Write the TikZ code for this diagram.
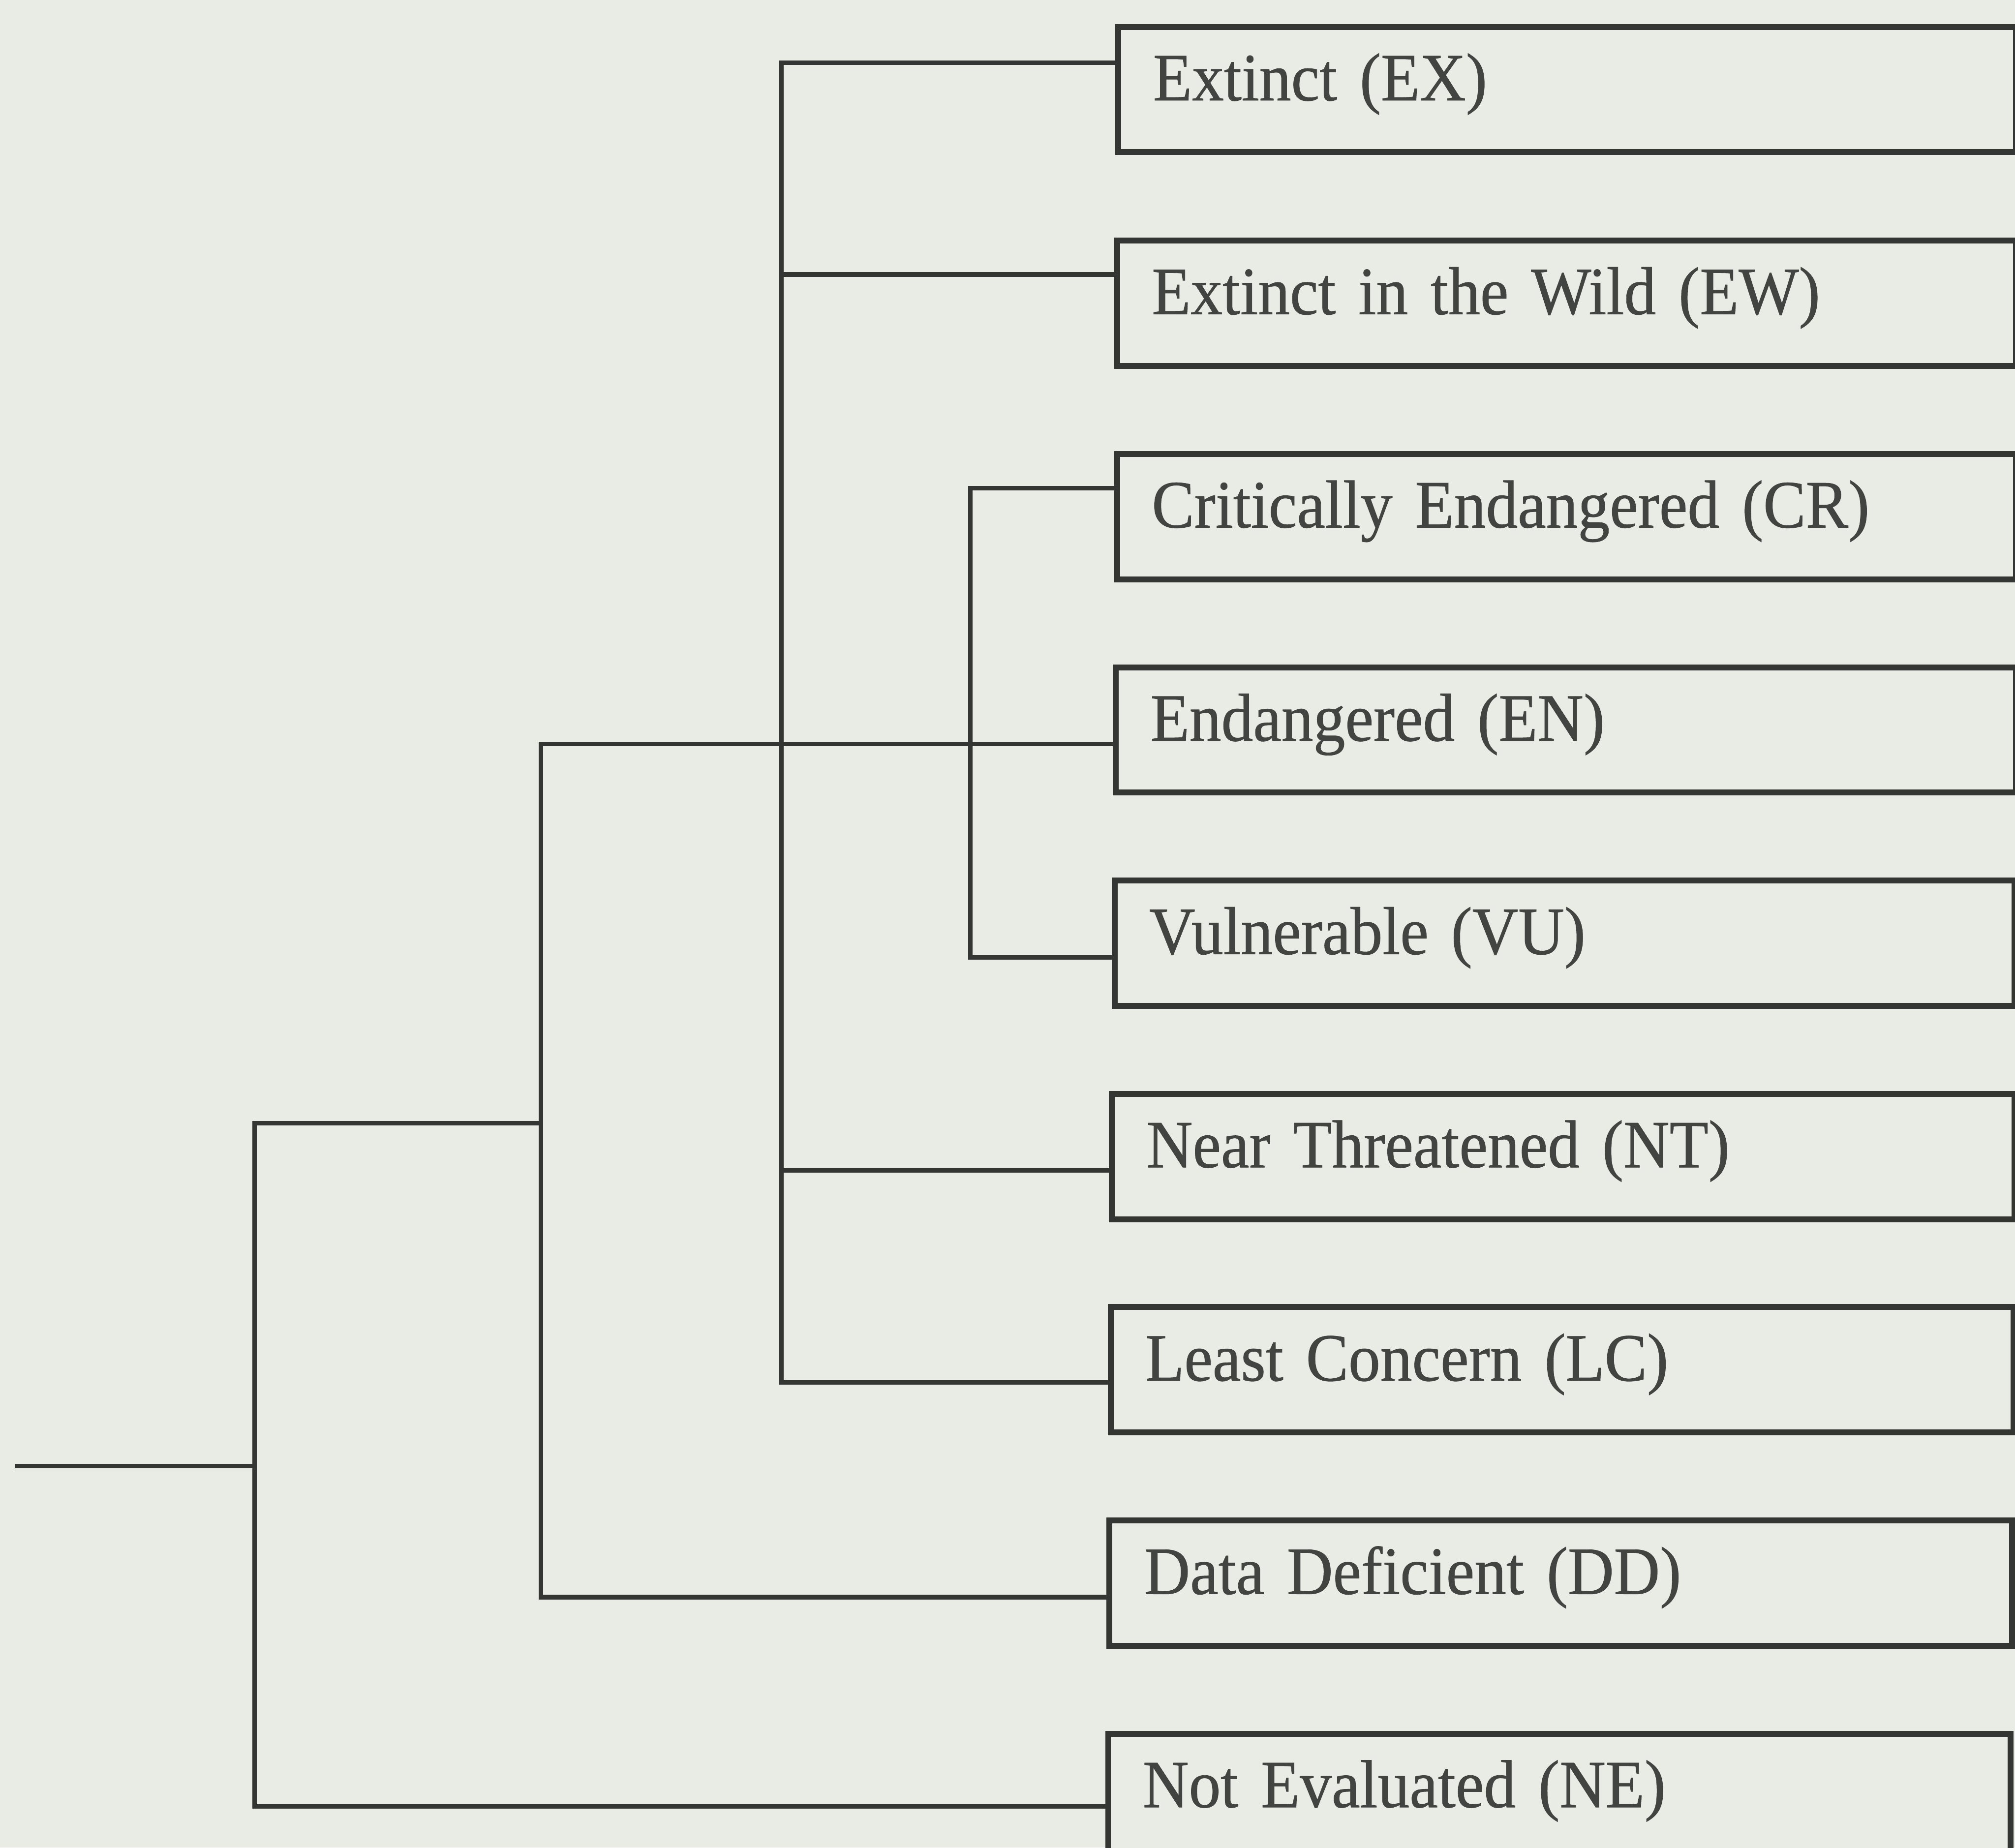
\documentclass[tikz,border=0pt]{standalone}
\usepackage{fontspec}
\setmainfont{Liberation Serif}[FakeStretch=0.94, FakeBold=0.6, WordSpace=0.9]
\usetikzlibrary{calc}
\definecolor{bgcol}{RGB}{232,236,229}
\definecolor{linecol}{RGB}{52,54,52}
\definecolor{textcol}{RGB}{66,68,66}
\tikzset{
  catbox/.style={draw=linecol, line width=1.3pt, fill=bgcol, anchor=north west,
    inner xsep=0.27cm, inner ysep=0pt, minimum height=0.975cm,
    text width=#1, align=left, text height=0.68em, text depth=0.2em,
    text=textcol, font=\fontsize{15pt}{18pt}\selectfont},
  branch/.style={draw=linecol, line width=1.0pt}
}
\begin{document}
\begin{tikzpicture}[x=0.01cm, y=-0.01cm]
\fill[bgcol] (0,0) rectangle (1568,1438);
\useasboundingbox (0,0) rectangle (1568,1438);

% category boxes
\node[catbox=6.44cm] (EX) at (868,18.6) {Extinct (EX)};
\node[catbox=6.45cm] (EW) at (867,185) {Extinct in the Wild (EW)};
\node[catbox=6.45cm] (CR) at (867,351) {Critically Endangered (CR)};
\node[catbox=6.46cm] (EN) at (866,517) {Endangered (EN)};
\node[catbox=6.46cm] (VU) at (865,683) {Vulnerable (VU)};
\node[catbox=6.48cm] (NT) at (863,849) {Near Threatened (NT)};
\node[catbox=6.48cm] (LC) at (862,1015) {Least Concern (LC)};
\node[catbox=6.48cm] (DD) at (861,1181) {Data Deficient (DD)};
\node[catbox=6.48cm] (NE) at (860,1347) {Not Evaluated (NE)};

% connection points on the box edges
\coordinate (EXin) at ($(EX.north west)+(0,30.2)$);
\coordinate (EWin) at ($(EW.north west)+(0,28.6)$);
\coordinate (CRin) at ($(CR.north west)+(0,29)$);
\coordinate (ENin) at ($(EN.north west)+(0,62)$);
\coordinate (VUin) at ($(VU.north west)+(0,62)$);
\coordinate (NTin) at ($(NT.north west)+(0,62)$);
\coordinate (LCin) at ($(LC.north west)+(0,61)$);
\coordinate (DDin) at ($(DD.north west)+(0,62)$);
\coordinate (NEin) at ($(NE.north west)+(0,59)$);

% tree junctions
\coordinate (root) at (12,1141);
\coordinate (n1) at (198,1141);
\coordinate (n1top) at (198,874);
\coordinate (n2) at (421,874);
\coordinate (n2top) at (421,579);
\coordinate (n3bot) at (608,1076);
\coordinate (n4bot) at (755,745);

% connectors
\draw[branch] (root) -- (n1);
\draw[branch] (NEin) -| (n1top) -- (n2);
\draw[branch] (DDin) -| (n2top) -- (ENin);
\draw[branch] (EXin) -| (n3bot) -- (LCin);
\draw[branch] (EWin) -- (EWin -| n3bot);
\draw[branch] (NTin) -- (NTin -| n3bot);
\draw[branch] (CRin) -| (n4bot) -- (VUin);
\end{tikzpicture}
\end{document}
